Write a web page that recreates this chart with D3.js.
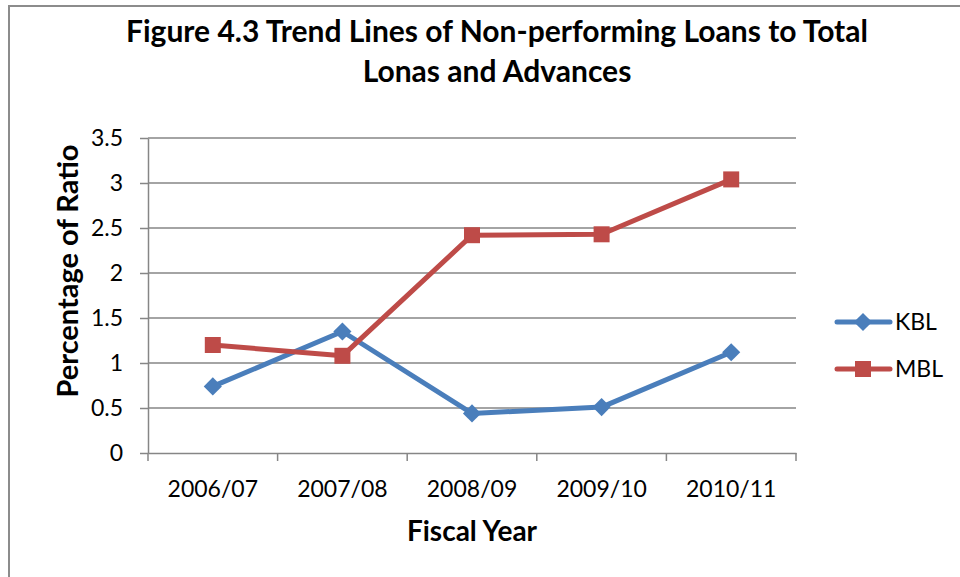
<!DOCTYPE html>
<html lang="en">
<head>
  <meta charset="UTF-8">
  <title>Figure 4.3</title>
  <script src="https://cdn.jsdelivr.net/npm/d3@7"></script>
<style>
body{
  margin: 0;
  background: #fff;
}
svg text{
  font-family: Lato, "Open Sans", sans-serif;
  fill: #000;
}
.grid line{
  stroke: #868686;
  stroke-width: 1.5;
}
.eje path, .eje line{
  stroke: #868686;
  stroke-width: 1.5;
}
</style>
</head>
<body>
  <div id="grafico"></div>

  <script>
    var w = 960;
    var h = 577;

    // datos
    var years = ['2006/07', '2007/08', '2008/09', '2009/10', '2010/11'];
    var kbl = [0.74, 1.35, 0.44, 0.51, 1.12];
    var mbl = [1.2, 1.08, 2.42, 2.43, 3.04];
    var yTicks = [0, 0.5, 1, 1.5, 2, 2.5, 3, 3.5];
    var seriesNames = ['KBL', 'MBL'];
    var colores = ['#4A7EBB', '#BE4B48'];

    var margen = {left: 148, right: 796, top: 138, bottom: 453};

    var svg = d3.select("#grafico")
      .append("svg")
      .attr("width", w)
      .attr("height", h);

    // marco
    svg.append("rect")
      .attr("x", 9).attr("y", 6)
      .attr("width", w + 20).attr("height", h + 20)
      .attr("fill", "none")
      .attr("stroke", "#8c8c8c")
      .attr("stroke-width", 2);

    var xScale = d3.scaleBand()
      .domain(years)
      .range([margen.left, margen.right]);

    var yScale = d3.scaleLinear()
      .domain([0, 3.5])
      .range([margen.bottom, margen.top]);

    // grid horizontal
    svg.append("g")
      .attr("class", "grid")
      .selectAll("line")
      .data(yTicks.slice(1))
      .enter().append("line")
      .attr("x1", margen.left)
      .attr("x2", margen.right)
      .attr("y1", function(d){ return yScale(d); })
      .attr("y2", function(d){ return yScale(d); });

    // eje y
    var ejeY = svg.append("g")
      .attr("class", "eje")
      .attr("transform", "translate(" + margen.left + ",0)")
      .call(d3.axisLeft(yScale).tickValues(yTicks).tickSize(8).tickSizeOuter(0).tickPadding(17)
        .tickFormat(function(d){ return String(d); }));
    ejeY.selectAll("text").style("font-size", "23px");

    // eje x
    var ejeX = svg.append("g")
      .attr("class", "eje")
      .attr("transform", "translate(0," + margen.bottom + ")")
      .call(d3.axisBottom(xScale).tickSize(0).tickPadding(28));
    ejeX.selectAll("text").style("font-size", "23px");
    // marcas entre categorias
    ejeX.selectAll(".sep")
      .data(d3.range(years.length + 1))
      .enter().append("line")
      .attr("class", "sep")
      .attr("x1", function(i){ return margen.left + i * xScale.step(); })
      .attr("x2", function(i){ return margen.left + i * xScale.step(); })
      .attr("y1", 0)
      .attr("y2", 8);

    var line = d3.line()
      .x(function(d, i){ return xScale(years[i]) + xScale.bandwidth() / 2; })
      .y(function(d){ return yScale(d); });

    var datos = [kbl, mbl];
    var simbolos = [d3.symbolDiamond2, d3.symbolSquare];
    var tamanos = [210, 256];

    datos.forEach(function(serie, k){
      svg.append("path")
        .datum(serie)
        .attr("fill", "none")
        .attr("stroke", colores[k])
        .attr("stroke-width", 5)
        .attr("stroke-linejoin", "round")
        .attr("d", line);

      svg.selectAll(".m" + k)
        .data(serie)
        .enter().append("path")
        .attr("class", "m" + k)
        .attr("d", d3.symbol().type(simbolos[k]).size(tamanos[k]))
        .attr("fill", colores[k])
        .attr("transform", function(d, i){
          return "translate(" + (xScale(years[i]) + xScale.bandwidth() / 2) + "," + yScale(d) + ")";
        });
    });

    // leyenda
    var leyenda = svg.append("g");
    seriesNames.forEach(function(nombre, k){
      var ly = 322 + k * 47;
      leyenda.append("line")
        .attr("x1", 837).attr("x2", 890)
        .attr("y1", ly).attr("y2", ly)
        .attr("stroke", colores[k])
        .attr("stroke-width", 5)
        .attr("stroke-linecap", "round");
      leyenda.append("path")
        .attr("d", d3.symbol().type(simbolos[k]).size(tamanos[k]))
        .attr("fill", colores[k])
        .attr("transform", "translate(863," + ly + ")");
      leyenda.append("text")
        .attr("x", 895).attr("y", ly)
        .attr("dy", "0.36em")
        .style("font-size", "23px")
        .text(nombre);
    });

    // titulos
    svg.append("text")
      .attr("x", 497).attr("y", 42)
      .attr("text-anchor", "middle")
      .style("font-size", "30px").style("font-weight", "bold")
      .text("Figure 4.3 Trend Lines of Non-performing Loans to Total");
    svg.append("text")
      .attr("x", 497).attr("y", 82)
      .attr("text-anchor", "middle")
      .style("font-size", "30px").style("font-weight", "bold")
      .text("Lonas and Advances");

    svg.append("text")
      .attr("transform", "translate(78,271) rotate(-90)")
      .attr("text-anchor", "middle")
      .style("font-size", "29px").style("font-weight", "bold")
      .text("Percentage of Ratio");

    svg.append("text")
      .attr("x", 472).attr("y", 541)
      .attr("text-anchor", "middle")
      .style("font-size", "28px").style("font-weight", "bold")
      .text("Fiscal Year");
  </script>
</body>
</html>
